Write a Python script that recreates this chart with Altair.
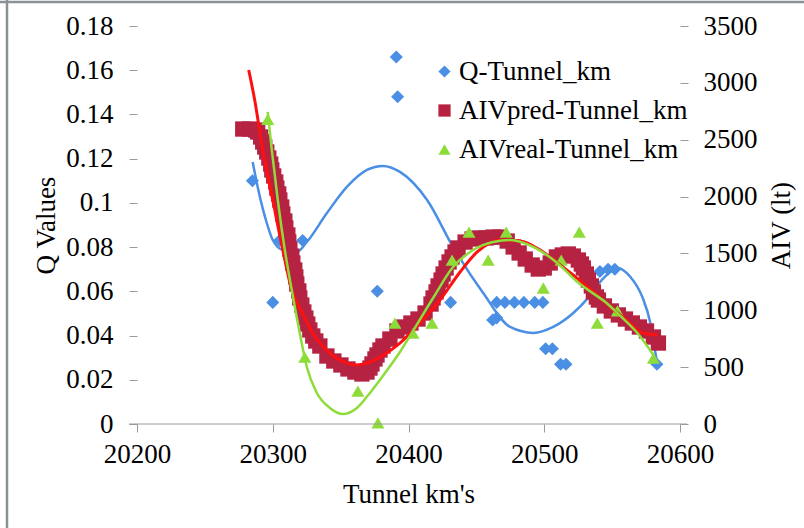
import altair as alt
import pandas as pd

# ---------------- data ----------------
km_ticks = [20200, 20300, 20400, 20500, 20600]
q_ticks = [0, 0.02, 0.04, 0.06, 0.08, 0.1, 0.12, 0.14, 0.16, 0.18]
aiv_ticks = [0, 500, 1000, 1500, 2000, 2500, 3000, 3500]

series_names = ["Q-Tunnel_km", "AIVpred-Tunnel_km", "AIVreal-Tunnel_km"]
series_colors = ["#4A8FE4", "#B52242", "#8EDC3A"]
series_shapes = ["diamond", "square", "triangle-up"]

q_km = [20285, 20300, 20305, 20322, 20377, 20391, 20392, 20431, 20462, 20465,
        20465, 20471, 20478, 20485, 20493, 20499, 20501, 20506, 20512, 20516,
        20541, 20547, 20552, 20583]
q_val = [0.110, 0.055, 0.083, 0.083, 0.060, 0.166, 0.148, 0.055, 0.047, 0.048,
         0.055, 0.055, 0.055, 0.055, 0.055, 0.055, 0.034, 0.034, 0.027, 0.027,
         0.069, 0.070, 0.070, 0.027]

q_trend_km = [20285.2, 20288.9, 20295.6, 20300.0, 20307.4, 20317.7, 20325.1, 20339.9,
              20354.6, 20369.4, 20381.2, 20393.7, 20413.7, 20432.8, 20455.0, 20474.9,
              20491.9, 20506.6, 20521.4, 20533.0, 20543.0, 20554.0, 20563.5, 20572.3,
              20578.2, 20581.9, 20583.4]
q_trend_val = [0.1185, 0.1072, 0.0909, 0.0832, 0.0787, 0.0778, 0.0823, 0.0954,
               0.1072, 0.1149, 0.1167, 0.1140, 0.1013, 0.0801, 0.0592, 0.0439,
               0.0412, 0.0439, 0.0502, 0.0575, 0.0655, 0.0706, 0.0665, 0.0574,
               0.0456, 0.0321, 0.0267]

pred_km = [20277.9, 20283.0, 20287.5, 20288.9, 20291.1, 20292.6, 20294.1, 20295.6,
           20297.1, 20298.5, 20299.3, 20300.7, 20302.2, 20303.0, 20304.4, 20305.2,
           20306.6, 20307.4, 20308.9, 20309.6, 20311.1, 20311.8, 20312.6, 20314.0,
           20314.8, 20316.2, 20317.0, 20317.7, 20319.2, 20319.9, 20321.4, 20322.9,
           20324.4, 20325.8, 20327.3, 20329.5, 20331.7, 20334.7, 20339.9, 20345.0,
           20350.2, 20355.4, 20360.5, 20365.7, 20369.4, 20371.6, 20373.1, 20375.3,
           20376.8, 20379.0, 20381.2, 20386.3, 20391.5, 20396.7, 20401.8, 20407.0,
           20412.2, 20416.6, 20418.1, 20420.3, 20421.8, 20424.0, 20425.5, 20427.7,
           20429.9, 20432.1, 20434.3, 20436.5, 20441.7, 20446.9, 20452.0, 20457.2,
           20462.4, 20467.5, 20472.7, 20477.1, 20481.5, 20486.0, 20491.1, 20495.6,
           20500.0, 20504.4, 20508.9, 20513.3, 20517.7, 20521.4, 20525.1, 20527.3,
           20528.8, 20531.0, 20532.5, 20534.7, 20536.2, 20538.4, 20539.9, 20544.3,
           20549.4, 20554.6, 20559.8, 20564.9, 20570.1, 20575.3, 20580.4, 20584.1]
pred_aiv = [2594, 2594, 2585, 2568, 2524, 2480, 2436, 2392,
            2339, 2286, 2234, 2181, 2128, 2075, 2023, 1970,
            1908, 1847, 1785, 1724, 1662, 1601, 1539, 1477,
            1416, 1354, 1293, 1231, 1170, 1108, 1046, 985,
            932, 879, 827, 774, 730, 686, 598, 554,
            519, 484, 457, 440, 457, 492, 528, 572,
            607, 651, 686, 747, 818, 853, 888, 923,
            976, 1055, 1108, 1161, 1214, 1266, 1319, 1372,
            1425, 1469, 1513, 1548, 1600, 1627, 1636, 1636,
            1644, 1644, 1609, 1557, 1504, 1451, 1398, 1363,
            1372, 1416, 1469, 1486, 1495, 1477, 1442, 1407,
            1372, 1319, 1266, 1214, 1161, 1117, 1090, 1038,
            994, 959, 923, 888, 853, 818, 765, 712]

pred_trend_km = [20282.3, 20286.7, 20292.6, 20300.0, 20307.4, 20314.0, 20321.4, 20329.5,
                 20342.1, 20354.6, 20361.3, 20371.6, 20382.7, 20393.7, 20408.5, 20423.2,
                 20438.0, 20450.6, 20467.5, 20482.3, 20497.0, 20511.8, 20526.6, 20536.2,
                 20548.7, 20561.3, 20570.8, 20576.8, 20583.4]
pred_trend_aiv = [3113, 2849, 2410, 1970, 1530, 1178, 985, 800,
                  624, 536, 519, 545, 616, 712, 888, 1090,
                  1337, 1513, 1618, 1609, 1530, 1398, 1258, 1161,
                  1029, 906, 809, 791, 783]

real_km = [20296.3, 20323.6, 20362.7, 20377.5, 20390.0, 20403.3, 20417.3, 20432.1,
           20444.6, 20458.7, 20472.0, 20499.3, 20512.5, 20525.8, 20539.1, 20553.9,
           20580.4]
real_aiv = [2680, 589, 290, 10, 888, 800, 888, 1442,
            1688, 1442, 1688, 1196, 1442, 1688, 888, 994,
            580]

real_trend_km = [20296.3, 20299.3, 20303.7, 20308.9, 20314.0, 20319.9, 20325.1, 20332.5,
                 20342.1, 20351.7, 20362.0, 20371.6, 20382.7, 20393.7, 20403.3, 20418.1,
                 20432.8, 20447.6, 20462.4, 20474.9, 20491.9, 20509.6, 20524.4, 20534.0,
                 20545.0, 20556.1, 20568.6, 20580.4]
real_trend_aiv = [2744, 2410, 1970, 1530, 1178, 800, 501, 273,
                  141, 88, 141, 273, 448, 633, 818, 1108,
                  1381, 1530, 1600, 1618, 1557, 1416, 1249, 1165,
                  1073, 950, 800, 607]

# ---------------- tables ----------------
q_df = pd.DataFrame({"km": q_km, "v": q_val, "series": series_names[0]})
q_tr = pd.DataFrame({"km": q_trend_km, "v": q_trend_val})
pred_df = pd.DataFrame({"km": pred_km, "v": pred_aiv, "series": series_names[1]})
pred_tr = pd.DataFrame({"km": pred_trend_km, "v": pred_trend_aiv})
real_df = pd.DataFrame({"km": real_km, "v": real_aiv, "series": series_names[2]})
real_tr = pd.DataFrame({"km": real_trend_km, "v": real_trend_aiv})
one = pd.DataFrame({"a": [0]})

FONT = "Liberation Serif"
FS = 27
GRAY = "#9a9a9a"
W, H = 543, 398

x_enc = alt.X(
    "km:Q",
    scale=alt.Scale(domain=[20200, 20600], nice=False, zero=False),
    axis=alt.Axis(values=km_ticks, format="d", title="Tunnel km's", domain=False,
                  tickSize=8, tickColor=GRAY, labelPadding=9, labelFlush=False,
                  titleX=W / 2, titleY=70, titleBaseline="middle", titleAlign="center"),
)

q_scale = alt.Scale(domain=[0, 0.18], nice=False, zero=True)
aiv_scale = alt.Scale(domain=[0, 3500], nice=False, zero=True)

q_axis = alt.Axis(values=q_ticks, labelExpr="format(datum.value, '.2~f')", title="Q Values",
                  orient="left", domain=False, tickSize=8, tickColor=GRAY, labelPadding=16,
                  labelFlush=False,
                  titleX=-91, titleY=H / 2, titleAngle=270, titleBaseline="middle",
                  titleAlign="center")
aiv_axis = alt.Axis(values=aiv_ticks, format="d", title="AIV (lt)", orient="right",
                    domain=False, tickSize=8, tickColor=GRAY, labelPadding=15,
                    labelFlush=False,
                    titleX=101, titleY=H / 2, titleAngle=270, titleBaseline="middle",
                    titleAlign="center")

legend = alt.Legend(orient="none", legendX=294, legendY=32, title=None,
                    labelFont=FONT, labelFontSize=FS, labelColor="black", labelLimit=0,
                    symbolSize=150, symbolStrokeWidth=0, symbolOpacity=1,
                    rowPadding=11, labelOffset=1, padding=0)
color_enc = alt.Color("series:N", scale=alt.Scale(domain=series_names, range=series_colors),
                      legend=legend)
shape_enc = alt.Shape("series:N", scale=alt.Scale(domain=series_names, range=series_shapes),
                      legend=legend)

q_pts = alt.Chart(q_df).mark_point(filled=True, opacity=1, size=170, strokeWidth=0).encode(
    x=x_enc, y=alt.Y("v:Q", scale=q_scale, axis=q_axis), color=color_enc, shape=shape_enc)
q_line = alt.Chart(q_tr).mark_line(interpolate="monotone", color="#4A8FE4", strokeWidth=2.5).encode(
    x="km:Q", y=alt.Y("v:Q", scale=q_scale))
left = alt.layer(q_pts, q_line)

pred_pts = alt.Chart(pred_df).mark_point(filled=True, opacity=1, size=235, strokeWidth=0).encode(
    x="km:Q", y=alt.Y("v:Q", scale=aiv_scale, axis=aiv_axis), color=color_enc, shape=shape_enc)
real_pts = alt.Chart(real_df).mark_point(filled=True, opacity=1, size=170, strokeWidth=0).encode(
    x="km:Q", y=alt.Y("v:Q", scale=aiv_scale), color=color_enc, shape=shape_enc)
pred_line = alt.Chart(pred_tr).mark_line(interpolate="monotone", color="#FF1010", strokeWidth=3).encode(
    x="km:Q", y=alt.Y("v:Q", scale=aiv_scale))
real_line = alt.Chart(real_tr).mark_line(interpolate="monotone", color="#8EDC3A", strokeWidth=2.5).encode(
    x="km:Q", y=alt.Y("v:Q", scale=aiv_scale))
right = alt.layer(pred_pts, real_pts, pred_line, real_line)

# decorations: extended x-axis line and the chart frame (left and top edges)
x_line = alt.Chart(one).mark_rule(color=GRAY, strokeWidth=1).encode(
    x=alt.value(-8), x2=alt.value(W + 7), y=alt.value(H))
frame_left = alt.Chart(one).mark_rule(color="#8a9296", strokeWidth=2.5).encode(
    x=alt.value(-130), y=alt.value(-26), y2=alt.value(H + 104))
frame_top = alt.Chart(one).mark_rule(color="#8a9296", strokeWidth=2.5).encode(
    x=alt.value(-137), x2=alt.value(W + 124), y=alt.value(-24))

chart = alt.layer(left, right, x_line, frame_left, frame_top).resolve_scale(
    y="independent"
).properties(
    width=W, height=H,
    autosize=alt.AutoSizeParams(type="none"),
    padding={"left": 137, "top": 26, "right": 124, "bottom": 104},
    background="white",
).configure_view(stroke=None).configure_axis(
    labelFont=FONT, labelFontSize=FS, labelColor="black",
    titleFont=FONT, titleFontSize=FS, titleFontWeight="normal", titleColor="black",
    grid=False,
)

chart.save("out.html", embed_options={"renderer": "svg", "actions": False})
